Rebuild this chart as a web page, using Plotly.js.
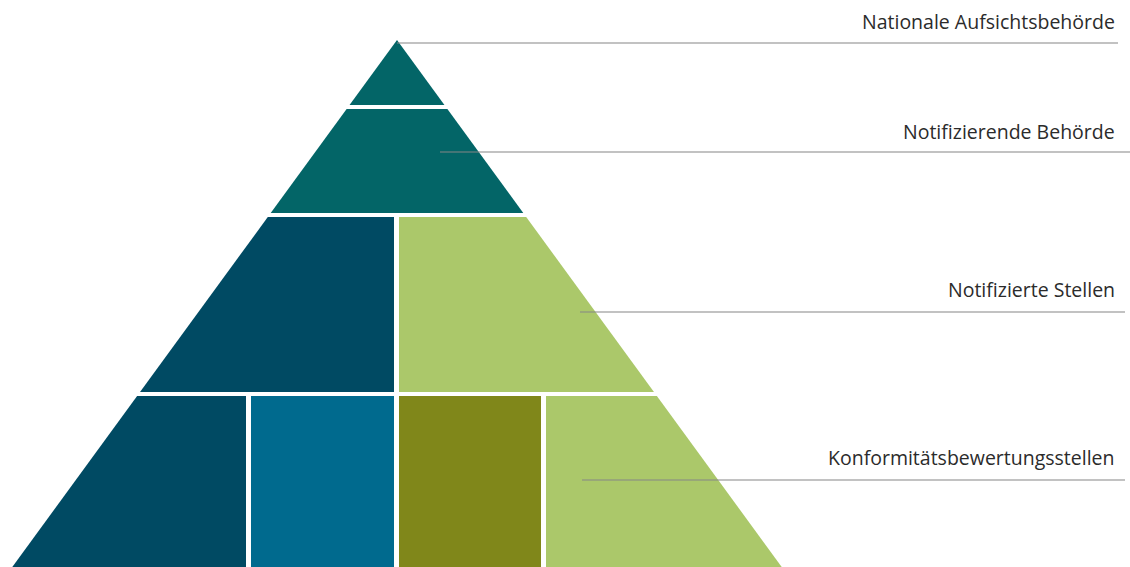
<!DOCTYPE html>
<html><head><meta charset="utf-8">
<script src="https://cdn.plot.ly/plotly-3.0.1.min.js"></script>
<style>html,body{margin:0;padding:0;background:#fff}#chart{width:1130px;height:567px}</style>
</head><body><div id="chart"></div>
<script>
// Pyramid levels (top to bottom)
const levelNames = ["Nationale Aufsichtsbehörde", "Notifizierende Behörde", "Notifizierte Stellen", "Konformitätsbewertungsstellen"];
const levelTop = [40, 109, 217, 396];
const levelBottom = [105, 213, 392, 567];
// block split points per level (x boundaries between blocks, as [left,right] pairs)
const levelBlocks = [
  [[-1e4, 1e4]],
  [[-1e4, 1e4]],
  [[-1e4, 394], [399, 1e4]],
  [[-1e4, 246], [251, 394], [399, 541], [546, 1e4]]
];
const levelColors = [
  ["#036567"],
  ["#036567"],
  ["#004a63", "#abc86a"],
  ["#004a63", "#006a8e", "#80871a", "#abc86a"]
];
// leader lines
const leaderY = [43, 152, 312, 480];
const leaderX0 = [397, 440, 580, 582];
const leaderX1 = [1118, 1130, 1125, 1125];
const labelY = [21, 131, 289, 457];

const apexX = 397, apexY = 40, slope = 0.73;
function leftEdge(y){ return apexX - slope*(y-apexY); }
function rightEdge(y){ return apexX + slope*(y-apexY); }

const traces = [];
levelNames.forEach((name, i) => {
  const t = levelTop[i], b = levelBottom[i];
  levelBlocks[i].forEach((blk, j) => {
    const xs = [], ys = [];
    const tl = Math.max(blk[0], leftEdge(t)), tr = Math.min(blk[1], rightEdge(t));
    const bl = Math.max(blk[0], leftEdge(b)), br = Math.min(blk[1], rightEdge(b));
    if (tr > tl) { xs.push(tl, tr); ys.push(t, t); }
    else { xs.push((tl+tr)/2); ys.push(t); }
    if (blk[1] < rightEdge(b) && blk[1] > rightEdge(t)) {
      const yr = apexY + (blk[1]-apexX)/slope;
      xs.push(blk[1]); ys.push(yr);
    }
    xs.push(br, bl); ys.push(b, b);
    if (blk[0] > leftEdge(b) && blk[0] < leftEdge(t)) {
      const yl = apexY + (apexX-blk[0])/slope;
      xs.push(blk[0]); ys.push(yl);
    }
    traces.push({type:'scatter', mode:'lines', x:xs, y:ys, fill:'toself',
      fillcolor: levelColors[i][j], line:{width:0, color: levelColors[i][j]}, hoverinfo:'skip', showlegend:false});
  });
});
leaderY.forEach((y, i) => {
  traces.push({type:'scatter', mode:'lines', x:[leaderX0[i], leaderX1[i]], y:[y, y],
    line:{color:'#858585', width:1.2}, hoverinfo:'skip', showlegend:false});
});

const annotations = levelNames.map((n, i) => ({
  x: 1117, y: labelY[i], xref:'x', yref:'y', text: n, showarrow:false,
  xanchor:'right', yanchor:'middle', font:{family:'Open Sans, sans-serif', size:19.5, color:'#2b2b2b'}
}));

const layout = {
  width:1130, height:567, margin:{l:0,r:0,t:0,b:0},
  paper_bgcolor:'#ffffff', plot_bgcolor:'#ffffff',
  xaxis:{range:[0,1130], visible:false, fixedrange:true},
  yaxis:{range:[567,0], visible:false, fixedrange:true},
  annotations: annotations, showlegend:false
};
Plotly.newPlot('chart', traces, layout, {displayModeBar:false, staticPlot:true});
</script></body></html>
